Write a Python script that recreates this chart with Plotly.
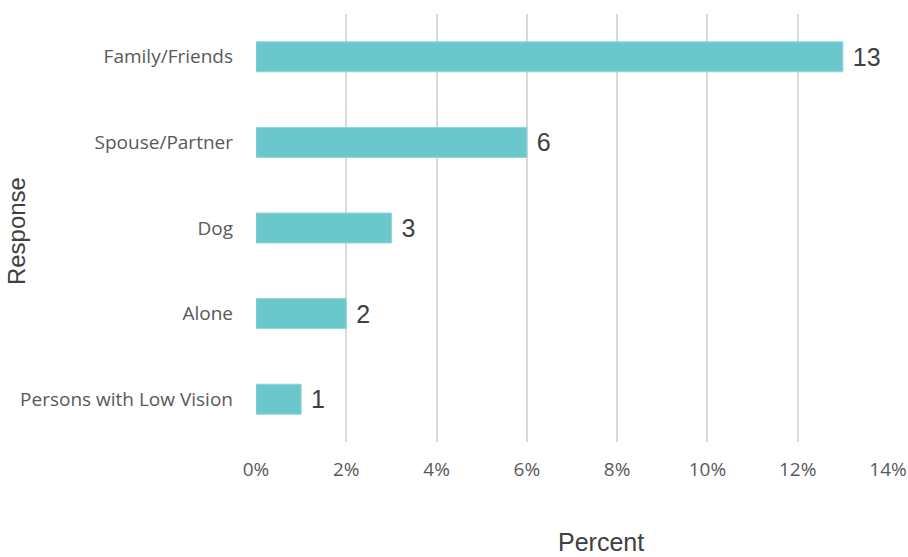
import plotly.graph_objects as go

categories = ["Persons with Low Vision", "Alone", "Dog", "Spouse/Partner", "Family/Friends"]
percent_values = [1, 2, 3, 6, 13]
tick_values = [0, 2, 4, 6, 8, 10, 12, 14]
tick_labels = ["0%", "2%", "4%", "6%", "8%", "10%", "12%", "14%"]

fig = go.Figure()
fig.add_trace(go.Bar(
    y=categories,
    x=percent_values,
    orientation="h",
    width=0.35,
    marker=dict(color="#6AC7CB", line=dict(color="#8FD6D9", width=1)),
    text=["\u00a0" + str(v) for v in percent_values],
    textposition="outside",
    textangle=0,
    textfont=dict(family="Liberation Sans, Arial", size=25, color="#404040"),
    cliponaxis=False,
))

fig.update_layout(
    width=908, height=557,
    autosize=False,
    margin=dict(l=256, r=20, t=14, b=115),
    plot_bgcolor="white", paper_bgcolor="white",
    showlegend=False,
    xaxis=dict(
        range=[0, 14],
        tickvals=tick_values,
        ticktext=tick_labels,
        showgrid=True, gridcolor="#D9D9D9", gridwidth=2,
        zeroline=False, showline=False, automargin=False,
        ticks="", ticklabelstandoff=14,
        tickfont=dict(family="Open Sans, Lato", size=19, color="#595959"),
    ),
    yaxis=dict(
        categoryorder="array", categoryarray=categories,
        showgrid=False, zeroline=False, showline=False, automargin=False,
        ticks="", ticklabelstandoff=22,
        tickfont=dict(family="Open Sans, Lato", size=19, color="#595959"),
    ),
    annotations=[
        dict(text="Percent", xref="paper", yref="paper", x=0.546, y=-0.2337,
             xanchor="center", yanchor="middle", showarrow=False,
             font=dict(family="Liberation Sans, Arial", size=25, color="#404040")),
        dict(text="Response", xref="paper", yref="paper", x=-0.378, y=0.493,
             xanchor="center", yanchor="middle", showarrow=False, textangle=-90,
             font=dict(family="Liberation Sans, Arial", size=24, color="#404040")),
    ],
)

fig.write_html(
    "out.html",
    config={"responsive": False, "displayModeBar": False},
    post_script="document.body.style.margin='0';document.body.style.overflow='hidden';",
)
